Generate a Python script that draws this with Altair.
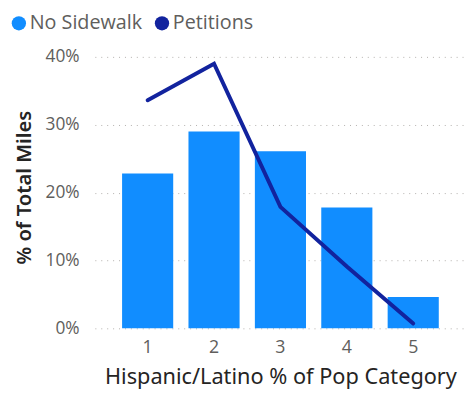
import altair as alt
import pandas as pd

categories = ["1", "2", "3", "4", "5"]
no_sidewalk = [0.228, 0.290, 0.261, 0.178, 0.046]
petitions = [0.336, 0.390, 0.179, 0.091, 0.007]
series_names = ["No Sidewalk", "Petitions"]
series_colors = ["#118DFF", "#12239E"]

bars = pd.DataFrame({"cat": categories, "value": no_sidewalk, "series": series_names[0]})
line = pd.DataFrame({"cat": categories, "value": petitions, "series": series_names[1]})

FONT = "Open Sans"

x = alt.X("cat:O", title="Hispanic/Latino % of Pop Category",
          scale=alt.Scale(paddingInner=0.23, paddingOuter=0.41),
          axis=alt.Axis(labelAngle=0, domain=False, ticks=False, labelPadding=11,
                        labelFontSize=18, labelColor="#605E5C", labelFont=FONT,
                        titleFontSize=22, titleColor="#252423", titleFont="Noto Sans",
                        titleFontWeight="normal", titlePadding=10))
y = alt.Y("value:Q", title="% of Total Miles",
          scale=alt.Scale(domain=[0, 0.4], nice=False),
          axis=alt.Axis(format=".0%", values=[0, 0.1, 0.2, 0.3, 0.4], domain=False, ticks=False,
                        labelPadding=16, labelFontSize=17.5, labelColor="#605E5C", labelFont=FONT,
                        grid=True, gridDash=[1, 5], gridColor="#B3B0AD", gridWidth=1,
                        titleFontSize=20.5, titleColor="#252423", titleFont="Noto Sans",
                        titleFontWeight=600, titlePadding=11, titleY=132))

bar_layer = alt.Chart(bars).mark_bar().encode(
    x=x, y=y,
    color=alt.Color("series:N", scale=alt.Scale(domain=series_names, range=series_colors),
                    legend=alt.Legend(title=None, orient="none", direction="horizontal",
                                      legendX=-87, legendY=-44, symbolType="circle",
                                      symbolSize=210, labelFontSize=20, labelFont=FONT,
                                      labelColor="#605E5C", columnPadding=10,
                                      symbolOpacity=1, labelOffset=1)),
)

line_layer = alt.Chart(line).mark_line(strokeWidth=4, color=series_colors[1], strokeCap="round").encode(
    x=x, y=y,
)

chart = alt.layer(bar_layer, line_layer).properties(
    width=376, height=275,
    autosize=alt.AutoSizeParams(type="none"),
    padding={"left": 88, "top": 47, "right": 0, "bottom": 62},
).configure_view(stroke=None)

chart.save("out.html", embed_options={"renderer": "svg", "actions": False})
